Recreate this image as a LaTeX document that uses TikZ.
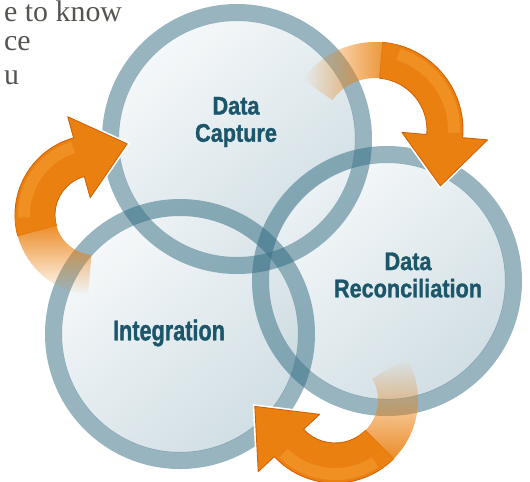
\documentclass[tikz,border=0pt]{standalone}
\usepackage{fontspec}
\setmainfont{Liberation Serif}
\newfontfamily\labelfont{Liberation Sans}[FakeStretch=0.85, BoldFeatures={FakeBold=1.2}]
\usetikzlibrary{calc, fadings}
\definecolor{ringblue}{RGB}{47,106,128}
\definecolor{discA}{RGB}{242,246,248}
\definecolor{discB}{RGB}{196,213,220}
\definecolor{arroworange}{RGB}{234,128,16}
\definecolor{arrowlight}{RGB}{245,158,52}
\definecolor{arrowedge}{RGB}{212,96,6}
\definecolor{labelteal}{RGB}{28,86,106}
\definecolor{fragtext}{RGB}{85,85,80}

\tikzset{
  disc/.style={shade, top color=discA, bottom color=discB, shading angle=40, fill opacity=0.78},
  ring/.style={draw=ringblue, draw opacity=0.5, line width=0.34cm},
  arrowbody/.style={fill=arroworange, draw=arrowedge, line width=0.5pt, line join=round,
    preaction={draw=white, line width=2.4pt}},
  arrowtail/.style={fill=arroworange},
  arrowshine/.style={draw=arrowlight, line width=0.24cm, draw opacity=0.55},
  stage/.style={font=\labelfont\bfseries\fontsize{14.5}{15.5}\selectfont, text=labelteal, align=center},
  fragment/.style={font=\fontsize{17}{20}\selectfont, text=fragtext, anchor=base west}
}

\begin{document}
\begin{tikzpicture}[x=0.02cm, y=-0.02cm]
    \useasboundingbox (0,0) rectangle (530,481);

    % Circle centres
    \coordinate (cap) at (237,139);
    \coordinate (rec) at (387,281);
    \coordinate (int) at (180,334);

    % Text cut off at the top left
    \node[fragment] (frag1) at (-2,21) {e to know};
    \node[fragment] (frag2) at (-2,50) {ce};
    \node[fragment] (frag3) at (-2,84) {u};

    % Discs
    \path[disc] (cap) circle[radius=118.5];
    \path[disc] (rec) circle[radius=118.5];
    \path[disc] (int) circle[radius=118.5];

    % Rings
    \draw[ring] (cap) circle[radius=126.5];
    \draw[ring] (rec) circle[radius=126.5];
    \draw[ring] (int) circle[radius=126.5];

    % Labels
    \node[stage] (capture) at (236,122) {Data\\Capture};
    \node[stage] (reconcile) at (408,275) {Data\\Reconciliation};
    \node[stage] (integrate) at (169,333) {\scalebox{1}[1.12]{Integration}};

    % Arrow from Data Capture to Data Reconciliation
    \coordinate (ta) at (375,130);
    \path[arrowbody] ($(ta)+(275:88)$) arc[start angle=275, end angle=365, radius=88]
        -- ($(ta)+(365:113)$) -- ($(ta)+(365:70)+(455:50)$) -- ($(ta)+(365:27)$)
        -- ($(ta)+(365:52)$) arc[start angle=365, end angle=275, radius=52] -- cycle;
    \draw[arrowshine] ($(ta)+(276:79)$) arc[start angle=276, end angle=362, radius=79];
    \fill[arrowtail, path fading=west] ($(ta)+(215:88)$) arc[start angle=215, end angle=287, radius=88]
        -- ($(ta)+(287:52)$) arc[start angle=287, end angle=215, radius=52] -- cycle;

    % Arrow from Integration to Data Capture
    \coordinate (lb) at (95,215);
    \path[arrowbody] ($(lb)+(165:80)$) arc[start angle=165, end angle=254.5, radius=80]
        -- ($(lb)+(254.5:102)$) -- ($(lb)+(254.5:60)+(344.5:50)$) -- ($(lb)+(254.5:18)$)
        -- ($(lb)+(254.5:40)$) arc[start angle=254.5, end angle=165, radius=40] -- cycle;
    \draw[arrowshine] ($(lb)+(166:71)$) arc[start angle=166, end angle=252, radius=71];
    \fill[arrowtail, path fading=south] ($(lb)+(95:80)$) arc[start angle=95, end angle=178, radius=80]
        -- ($(lb)+(178:40)$) arc[start angle=178, end angle=95, radius=40] -- cycle;

    % Arrow from Data Reconciliation to Integration
    \coordinate (bc) at (335,400);
    \path[arrowbody] ($(bc)+(45:83)$) arc[start angle=45, end angle=137, radius=83]
        -- ($(bc)+(137:105)$) -- ($(bc)+(137:63)+(227:50)$) -- ($(bc)+(137:21)$)
        -- ($(bc)+(137:43)$) arc[start angle=137, end angle=45, radius=43] -- cycle;
    \draw[arrowshine] ($(bc)+(46:74)$) arc[start angle=46, end angle=134, radius=74];
    \fill[arrowtail, path fading=north] ($(bc)+(-30:83)$) arc[start angle=-30, end angle=57, radius=83]
        -- ($(bc)+(57:43)$) arc[start angle=57, end angle=-30, radius=43] -- cycle;
\end{tikzpicture}
\end{document}
